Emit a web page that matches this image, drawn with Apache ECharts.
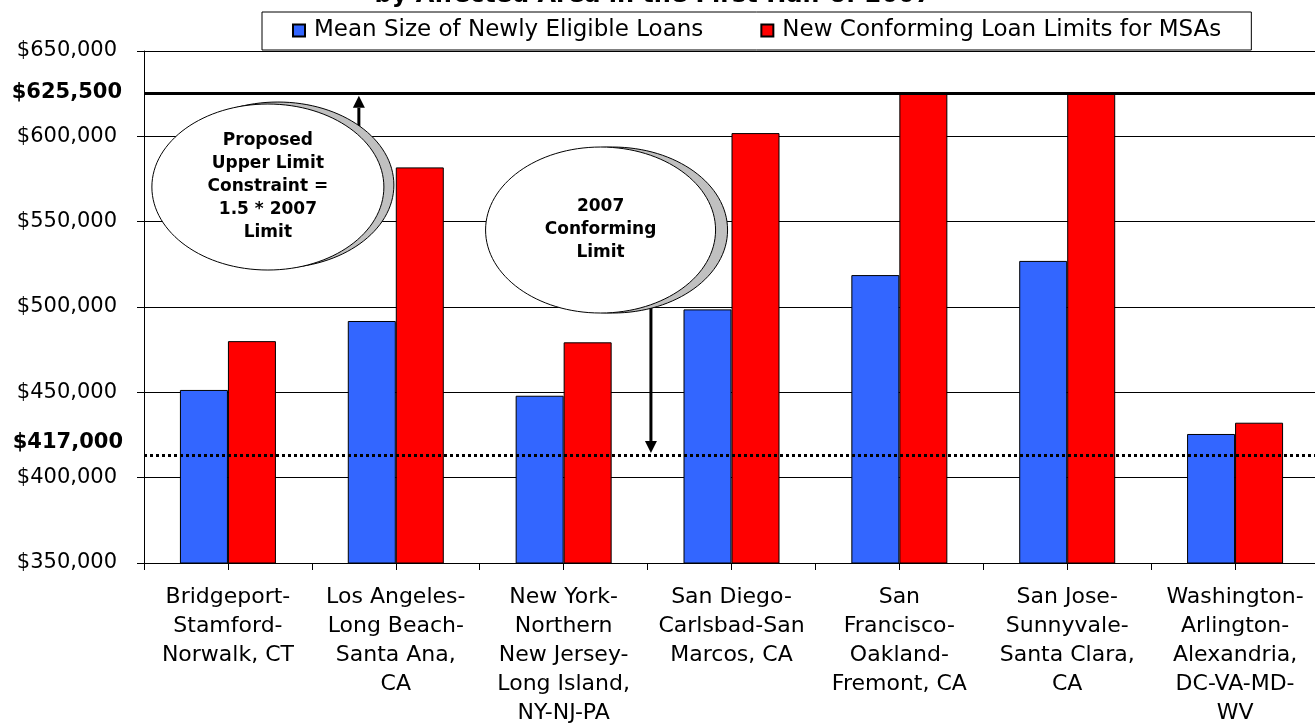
<!DOCTYPE html>
<html><head><meta charset="utf-8">
<script src="https://cdn.jsdelivr.net/npm/echarts@6/dist/echarts.min.js"></script>
<style>html,body{margin:0;padding:0;background:#fff}#c{width:1315px;height:724px}</style>
</head><body><div id="c"></div>
<script>
// ---- data ----
const titleText = 'by Affected Area in the First Half of 2007';
const categories = [
  'Bridgeport-\nStamford-\nNorwalk, CT',
  'Los Angeles-\nLong Beach-\nSanta Ana,\nCA',
  'New York-\nNorthern\nNew Jersey-\nLong Island,\nNY-NJ-PA',
  'San Diego-\nCarlsbad-San\nMarcos, CA',
  'San\nFrancisco-\nOakland-\nFremont, CA',
  'San Jose-\nSunnyvale-\nSanta Clara,\nCA',
  'Washington-\nArlington-\nAlexandria,\nDC-VA-MD-\nWV'
];
const seriesNames = ['Mean Size of Newly Eligible Loans', 'New Conforming Loan Limits for MSAs'];
const meanNewlyEligible = [451400, 491800, 448000, 498600, 518700, 527000, 425600];
const newConformingLimits = [480000, 581800, 479300, 601900, 625500, 625500, 432200];
const yMin = 350000, yMax = 650000, yStep = 50000;
const upperLimit = 625500;            // proposed upper limit (1.5 * 2007 limit)
const limit2007 = 417000;             // label value
const limit2007DrawnAt = 413300;      // where the dotted line sits in the picture
const callout1Lines = ['Proposed', 'Upper Limit', 'Constraint =', '1.5 * 2007', 'Limit'];
const callout2Lines = ['2007', 'Conforming', 'Limit'];

const money = v => '$' + v.toLocaleString('en-US');
const FONT = '"DejaVu Sans", Verdana, sans-serif';

const chart = echarts.init(document.getElementById('c'), null, {renderer: 'canvas'});
const option = {
  animation: false,
  backgroundColor: '#fff',
  textStyle: {fontFamily: FONT, color: '#000'},
  title: {
    text: titleText, left: 648, top: -21, textAlign: 'center',
    textStyle: {fontFamily: FONT, fontSize: 24, fontWeight: 'bold', color: '#000'}
  },
  legend: {
    left: 262, top: 12, itemWidth: 12, itemHeight: 12, itemGap: 57,
    padding: [7, 30, 8, 30], borderColor: '#000', borderWidth: 1, backgroundColor: '#fff',
    icon: 'rect',
    textStyle: {fontFamily: FONT, fontSize: 23, color: '#000', padding: [0, 0, 0, 4]}
  },
  grid: {left: 144, right: -4, top: 51, bottom: 161, containLabel: false, outerBoundsMode: 'none'},
  xAxis: [{
    type: 'category', data: categories,
    axisLine: {lineStyle: {color: '#000', width: 1}},
    axisTick: {show: true, length: 7, interval: 0, lineStyle: {color: '#000'}},
    axisLabel: {interval: 0, fontFamily: FONT, fontSize: 22, lineHeight: 29, color: '#000', margin: 20}
  }, {
    type: 'category', data: categories, position: 'bottom',
    axisLine: {show: false},
    axisTick: {show: true, alignWithLabel: true, length: 7, interval: 0, lineStyle: {color: '#000'}},
    axisLabel: {show: false}
  }],
  yAxis: {
    type: 'value', min: yMin, max: yMax, interval: yStep,
    axisLine: {show: true, lineStyle: {color: '#000'}},
    axisTick: {show: true, length: 7, lineStyle: {color: '#000'}},
    splitLine: {lineStyle: {color: '#000', width: 1}},
    axisLabel: {formatter: money, fontFamily: FONT, fontSize: 21, color: '#000', margin: 27}
  },
  series: [{
    name: seriesNames[0], type: 'bar', data: meanNewlyEligible,
    barWidth: 48, barGap: '0%',
    itemStyle: {color: '#3366FF', borderColor: '#000', borderWidth: 1},
    markLine: {
      silent: true, symbol: ['none', 'none'], z: 5,
      data: [
        {yAxis: upperLimit, lineStyle: {color: '#000', width: 3, type: 'solid'},
         label: {show: true, position: 'start', formatter: money(upperLimit), distance: 22,
                 fontFamily: FONT, fontSize: 21, fontWeight: 'bold', color: '#000'}},
        {yAxis: limit2007DrawnAt, lineStyle: {color: '#000', width: 3, type: [3, 3]},
         label: {show: true, position: 'start', formatter: money(limit2007), distance: 21,
                 offset: [0, -12],
                 fontFamily: FONT, fontSize: 21, fontWeight: 'bold', color: '#000'}}
      ]
    }
  }, {
    name: seriesNames[1], type: 'bar', data: newConformingLimits,
    barWidth: 48, barGap: '0%',
    itemStyle: {color: '#FF0000', borderColor: '#000', borderWidth: 1}
  }]
};
chart.setOption(option);

// ---- callout annotations anchored through the axes ----
const c0 = chart.convertToPixel({xAxisIndex: 0}, 0);
const c1 = chart.convertToPixel({xAxisIndex: 0}, 1);
const px = i => c0 + i * (c1 - c0);
const py = v => chart.convertToPixel({yAxisIndex: 0}, v);

function callout(cxCat, cyVal, rx, ry, shadowDx, shadowDy, lines) {
  const cx = px(cxCat), cy = py(cyVal);
  return [
    {type: 'ellipse', z: 100, shape: {cx: cx + shadowDx, cy: cy + shadowDy, rx: rx, ry: ry},
     style: {fill: '#C0C0C0', stroke: '#000', lineWidth: 1}},
    {type: 'ellipse', z: 101, shape: {cx: cx, cy: cy, rx: rx, ry: ry},
     style: {fill: '#fff', stroke: '#000', lineWidth: 1}},
    {type: 'text', z: 102, style: {text: lines.join('\n'), x: cx, y: cy, align: 'center', verticalAlign: 'middle',
      font: 'bold 17px ' + FONT, lineHeight: 23, fill: '#000'}}
  ];
}
function arrow(xCat, fromVal, toY) {
  const x = px(xCat), y0 = py(fromVal);
  const dir = toY < y0 ? -1 : 1;
  const head = 12, hw = 6;
  return [
    {type: 'line', z: 90, shape: {x1: x, y1: y0, x2: x, y2: toY - dir * head}, style: {stroke: '#000', lineWidth: 3}},
    {type: 'polygon', z: 90, shape: {points: [[x - hw, toY - dir * head], [x + hw, toY - dir * head], [x, toY]]},
     style: {fill: '#000'}}
  ];
}
const yUp = py(upperLimit), yLow = py(limit2007DrawnAt);
const graphics = [].concat(
  arrow(0.78, 590000, yUp + 3),
  arrow(2.52, 510000, yLow - 2),
  callout(0.238, 570300, 116, 83, 10, -2, callout1Lines),
  callout(2.22, 545100, 115, 83, 12, 0, callout2Lines)
);
chart.setOption({graphic: graphics});
</script>
</body></html>
